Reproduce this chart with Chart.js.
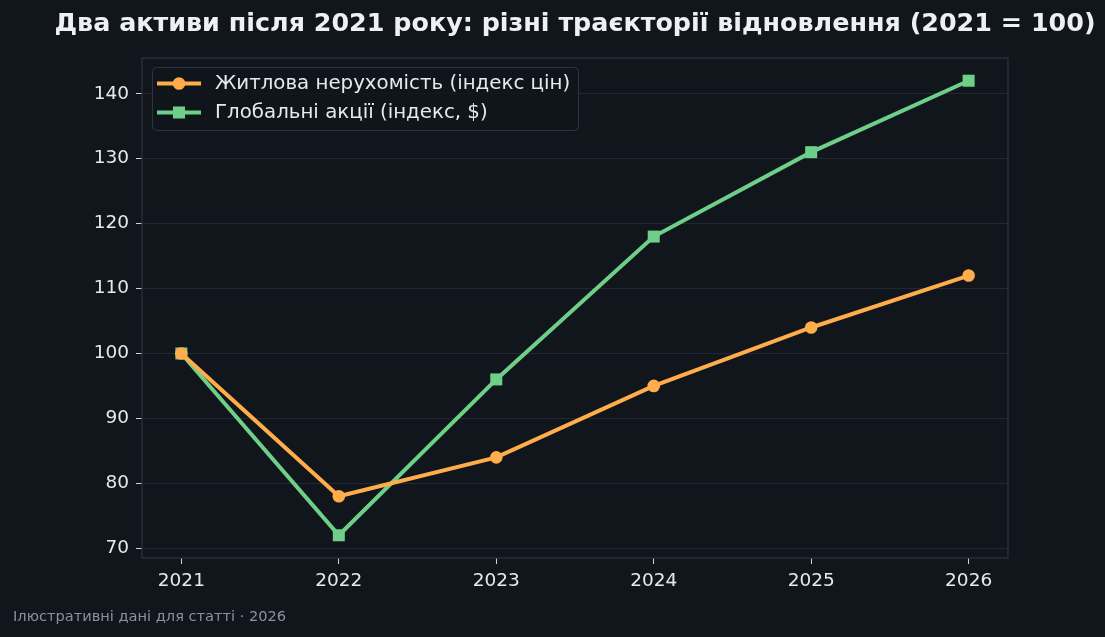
<!DOCTYPE html>
<html><head><meta charset="utf-8">
<script src="https://cdn.jsdelivr.net/npm/chart.js@4/dist/chart.umd.min.js"></script>
<style>
html,body{margin:0;padding:0;background:#11151c;}
#wrap{width:1105px;height:637px;position:relative;}
</style></head>
<body><div id="wrap"><canvas id="c" width="1105" height="637"></canvas></div>
<script>
const years = [2021, 2022, 2023, 2024, 2025, 2026];
const housing = [100, 78, 84, 95, 104, 112];
const stocks = [100, 72, 96, 118, 131, 142];
const yTicks = [70, 80, 90, 100, 110, 120, 130, 140];
const seriesLabels = ['Житлова нерухомість (індекс цін)', 'Глобальні акції (індекс, $)'];
const titleText = 'Два активи після 2021 року: різні траєкторії відновлення (2021 = 100)';
const footerText = 'Ілюстративні дані для статті · 2026';

const FONT = "'DejaVu Sans', sans-serif";
const decor = {
  id: 'decor',
  beforeDraw(chart) {
    const ctx = chart.ctx;
    ctx.save();
    ctx.fillStyle = '#11151c';
    ctx.fillRect(0, 0, chart.width, chart.height);
    ctx.restore();
  },
  afterDatasetsDraw(chart) {
    const ctx = chart.ctx, a = chart.chartArea;
    ctx.save();
    ctx.strokeStyle = '#2c3342';
    ctx.lineWidth = 1.2;
    ctx.strokeRect(a.left, a.top, a.right - a.left, a.bottom - a.top);
    // legend
    const lx = 152, ly = 67, lw = 426, lh = 63;
    ctx.fillStyle = 'rgba(17,21,28,0.85)';
    ctx.strokeStyle = '#2c3342';
    ctx.lineWidth = 1;
    ctx.beginPath();
    if (ctx.roundRect) ctx.roundRect(lx + 0.5, ly + 0.5, lw, lh, 4); else ctx.rect(lx + 0.5, ly + 0.5, lw, lh);
    ctx.fill(); ctx.stroke();
    chart.data.datasets.forEach((ds, i) => {
      const cy = 83.5 + i * 29;
      ctx.strokeStyle = ds.borderColor;
      ctx.lineWidth = 4;
      ctx.beginPath(); ctx.moveTo(157, cy); ctx.lineTo(201, cy); ctx.stroke();
      ctx.fillStyle = ds.backgroundColor;
      if (ds.pointStyle === 'rect') {
        ctx.fillRect(179 - 6, cy - 6, 12, 12);
      } else {
        ctx.beginPath(); ctx.arc(179, cy, 6.3, 0, Math.PI * 2); ctx.fill();
      }
      ctx.fillStyle = '#e6e9ee';
      ctx.font = '19.8px ' + FONT;
      ctx.textBaseline = 'middle';
      ctx.textAlign = 'left';
      ctx.fillText(ds.label, 215, cy);
    });
    // title
    ctx.fillStyle = '#eef0f4';
    ctx.font = 'bold 25.4px ' + FONT;
    ctx.textAlign = 'center';
    ctx.textBaseline = 'middle';
    ctx.fillText(titleText, 575, 24);
    // footer
    ctx.fillStyle = '#8b929c';
    ctx.font = '14.6px ' + FONT;
    ctx.textAlign = 'left';
    ctx.fillText(footerText, 13, 617);
    ctx.restore();
  }
};

new Chart(document.getElementById('c'), {
  type: 'line',
  data: {
    datasets: [
      {
        label: seriesLabels[0],
        data: years.map((y, i) => ({x: y, y: housing[i]})),
        borderColor: '#ffad4a', backgroundColor: '#ffad4a',
        borderWidth: 4, pointStyle: 'circle', pointRadius: 6.3, pointHoverRadius: 6.3,
        pointBorderWidth: 0, tension: 0
      },
      {
        label: seriesLabels[1],
        data: years.map((y, i) => ({x: y, y: stocks[i]})),
        borderColor: '#6dcf88', backgroundColor: '#6dcf88',
        borderWidth: 4, pointStyle: 'rect', pointRadius: 8.5, pointHoverRadius: 8.5,
        pointBorderWidth: 0, tension: 0
      }
    ]
  },
  options: {
    responsive: false, animation: false, devicePixelRatio: 1,
    layout: {padding: {left: 0, right: 97, top: 58, bottom: 0}},
    plugins: {legend: {display: false}, title: {display: false}, tooltip: {enabled: false}},
    scales: {
      x: {
        type: 'linear', min: 2020.75, max: 2026.25,
        afterBuildTicks: s => { s.ticks = years.map(v => ({value: v})); },
        afterFit: s => { s.height = 79; },
        grid: {drawOnChartArea: false, tickLength: 6, tickColor: '#cfd3da', tickWidth: 1},
        border: {display: false},
        ticks: {color: '#e6e9ee', font: {family: FONT, size: 18.5}, padding: 6, callback: v => String(v), maxRotation: 0}
      },
      y: {
        min: 68.5, max: 145.5,
        afterBuildTicks: s => { s.ticks = yTicks.map(v => ({value: v})); },
        afterFit: s => { s.width = 142; },
        grid: {color: '#222833', lineWidth: 1, tickLength: 6, tickColor: '#cfd3da', tickWidth: 1},
        border: {display: false},
        ticks: {color: '#e6e9ee', font: {family: FONT, size: 18.5}, padding: 7, callback: v => String(v)}
      }
    }
  },
  plugins: [decor]
});
</script></body></html>
